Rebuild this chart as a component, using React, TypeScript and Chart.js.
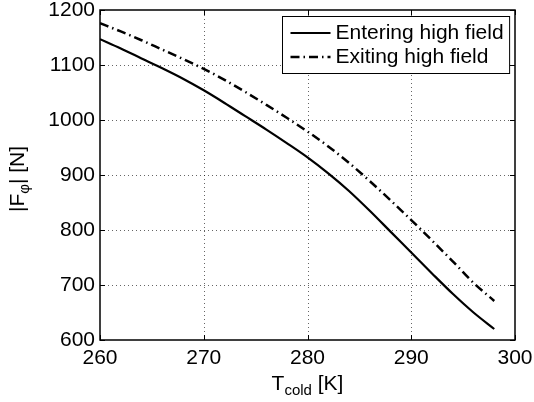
import React, { useEffect, useRef } from "react";
import { Chart, registerables } from "chart.js";

Chart.register(...registerables);

// ---- data ----
const temperatures = [260, 262, 264, 266, 268, 270, 272, 274, 276, 278, 280, 282, 284, 286, 288, 290, 292, 294, 296, 298];
const entering = [1147, 1130, 1112, 1094, 1075, 1054, 1031, 1007, 983, 958, 932, 903, 871, 835, 797, 759, 721, 684, 650, 620];
const exiting = [1176, 1161, 1145, 1128, 1111, 1093, 1073, 1051, 1028, 1004, 979, 952, 922, 889, 854, 818, 781, 743, 704, 671];
const seriesLabels = ["Entering high field", "Exiting high field"];
const xRange = [260, 300];
const yRange = [600, 1200];
const xStep = 10;
const yStep = 100;
const xTitle = ["T", "cold", " [K]"];
const yTitle = ["|F", "\u03C6", "| [N]"];

const FONT = '"Liberation Sans", Arial, Helvetica, sans-serif';
const FS = 21;
const SUB = 15;

const gridPlugin = {
  id: "dottedGrid",
  beforeDatasetsDraw(chart: any) {
    const { ctx, chartArea: a, scales } = chart;
    ctx.save();
    ctx.strokeStyle = "rgba(0,0,0,0.6)";
    ctx.lineWidth = 1;
    ctx.setLineDash([1, 3]);
    ctx.beginPath();
    scales.x.ticks.forEach((t: any) => {
      const px = Math.round(scales.x.getPixelForValue(t.value)) + 0.5;
      if (px <= a.left + 1 || px >= a.right - 1) return;
      ctx.moveTo(px, a.bottom);
      ctx.lineTo(px, a.top);
    });
    scales.y.ticks.forEach((t: any) => {
      const py = Math.round(scales.y.getPixelForValue(t.value)) + 0.5;
      if (py <= a.top + 1 || py >= a.bottom - 1) return;
      ctx.moveTo(a.left, py);
      ctx.lineTo(a.right, py);
    });
    ctx.stroke();
    ctx.restore();
  },
};

const framePlugin = {
  id: "frame",
  afterDatasetsDraw(chart: any) {
    const { ctx, chartArea: a, scales } = chart;
    ctx.save();
    ctx.strokeStyle = "#000";
    ctx.lineWidth = 1;
    const L = 5;
    ctx.beginPath();
    scales.x.ticks.forEach((t: any) => {
      const px = Math.round(scales.x.getPixelForValue(t.value)) + 0.5;
      ctx.moveTo(px, a.bottom);
      ctx.lineTo(px, a.bottom - L);
      ctx.moveTo(px, a.top);
      ctx.lineTo(px, a.top + L);
    });
    scales.y.ticks.forEach((t: any) => {
      const py = Math.round(scales.y.getPixelForValue(t.value)) + 0.5;
      ctx.moveTo(a.left, py);
      ctx.lineTo(a.left + L, py);
      ctx.moveTo(a.right, py);
      ctx.lineTo(a.right - L, py);
    });
    ctx.stroke();
    ctx.lineWidth = 1.5;
    ctx.strokeRect(a.left, a.top, a.right - a.left, a.bottom - a.top);
    ctx.restore();
  },
};

const legendPlugin = {
  id: "insideLegend",
  afterDraw(chart: any) {
    const { ctx, chartArea: a } = chart;
    const ds = chart.data.datasets;
    ctx.save();
    ctx.font = `${FS}px ${FONT}`;
    const textW = Math.max(...ds.map((d: any) => ctx.measureText(d.label).width));
    const sample = 40;
    const padL = 8;
    const gap = 5;
    const padR = 6;
    const rowH = 24;
    const w = padL + sample + gap + textW + padR;
    const h = 16.5 + rowH * (ds.length - 1) + 16.5;
    const x0 = Math.round(a.right - 6 - w) + 0.5;
    const y0 = Math.round(a.top + 6) + 0.5;
    ctx.fillStyle = "#fff";
    ctx.fillRect(x0, y0, w, h);
    ctx.strokeStyle = "#000";
    ctx.lineWidth = 1;
    ctx.setLineDash([]);
    ctx.strokeRect(x0, y0, w, h);
    ds.forEach((d: any, i: number) => {
      const cy = y0 + 16.5 + i * rowH;
      ctx.save();
      ctx.strokeStyle = d.borderColor;
      ctx.lineWidth = d.borderWidth;
      ctx.setLineDash(d.borderDash || []);
      ctx.beginPath();
      ctx.moveTo(x0 + padL, cy);
      ctx.lineTo(x0 + padL + sample, cy);
      ctx.stroke();
      ctx.restore();
      ctx.fillStyle = "#000";
      ctx.textAlign = "left";
      ctx.textBaseline = "middle";
      ctx.fillText(d.label, x0 + padL + sample + gap, cy);
    });
    ctx.restore();
  },
};

function drawSubText(ctx: any, parts: string[], baseline: number) {
  ctx.font = `${FS}px ${FONT}`;
  const w0 = ctx.measureText(parts[0]).width;
  ctx.font = `${SUB}px ${FONT}`;
  const w1 = ctx.measureText(parts[1]).width;
  ctx.font = `${FS}px ${FONT}`;
  const w2 = ctx.measureText(parts[2]).width;
  const total = w0 + w1 + w2;
  let x = -total / 2;
  ctx.textAlign = "left";
  ctx.textBaseline = "alphabetic";
  ctx.fillStyle = "#000";
  ctx.font = `${FS}px ${FONT}`;
  ctx.fillText(parts[0], x, baseline);
  x += w0;
  ctx.font = `${SUB}px ${FONT}`;
  ctx.fillText(parts[1], x, baseline + 5);
  x += w1;
  ctx.font = `${FS}px ${FONT}`;
  ctx.fillText(parts[2], x, baseline);
}

const titlesPlugin = {
  id: "axisTitles",
  afterDraw(chart: any) {
    const { ctx, chartArea: a } = chart;
    ctx.save();
    ctx.translate((a.left + a.right) / 2, 0);
    drawSubText(ctx, xTitle, 390);
    ctx.restore();
    ctx.save();
    ctx.translate(24, (a.top + a.bottom) / 2 + 4);
    ctx.rotate(-Math.PI / 2);
    drawSubText(ctx, yTitle, 0);
    ctx.restore();
  },
};

export default function App() {
  const ref = useRef<HTMLCanvasElement | null>(null);

  useEffect(() => {
    document.body.style.margin = "0";
    const canvas = ref.current!;
    const chart = new Chart(canvas, {
      type: "line",
      data: {
        datasets: [
          {
            label: seriesLabels[0],
            data: temperatures.map((t, i) => ({ x: t, y: entering[i] })),
            borderColor: "#000",
            borderWidth: 2.2,
            pointRadius: 0,
            fill: false,
            cubicInterpolationMode: "monotone",
          },
          {
            label: seriesLabels[1],
            data: temperatures.map((t, i) => ({ x: t, y: exiting[i] })),
            borderColor: "#000",
            borderWidth: 2.5,
            borderDash: [9, 4, 1.5, 4],
            pointRadius: 0,
            fill: false,
            cubicInterpolationMode: "monotone",
          },
        ],
      } as any,
      options: {
        animation: false,
        responsive: false,
        devicePixelRatio: 1,
        layout: { padding: { top: 10, right: 19, bottom: 0, left: 0 } },
        plugins: {
          legend: { display: false },
          tooltip: { enabled: false },
        },
        scales: {
          x: {
            type: "linear",
            min: xRange[0],
            max: xRange[1],
            afterFit: (s: any) => {
              s.height = 62;
              s.paddingLeft = 0;
              s.paddingRight = 0;
            },
            ticks: {
              stepSize: xStep,
              padding: 6,
              maxRotation: 0,
              color: "#000",
              font: { family: FONT, size: FS },
              callback: (v: any) => String(v),
            },
            grid: { display: false, drawTicks: false },
            border: { display: false },
          },
          y: {
            type: "linear",
            min: yRange[0],
            max: yRange[1],
            afterFit: (s: any) => {
              s.width = 100;
              s.paddingTop = 0;
              s.paddingBottom = 0;
            },
            ticks: {
              stepSize: yStep,
              padding: 5,
              color: "#000",
              font: { family: FONT, size: FS },
              callback: (v: any) => String(v),
            },
            grid: { display: false, drawTicks: false },
            border: { display: false },
          },
        },
      } as any,
      plugins: [gridPlugin, framePlugin, legendPlugin, titlesPlugin],
    });
    return () => chart.destroy();
  }, []);

  return (
    <div style={{ position: "absolute", left: 0, top: 0, width: 534, height: 402, background: "#fff" }}>
      <canvas ref={ref} width={534} height={402} />
    </div>
  );
}
